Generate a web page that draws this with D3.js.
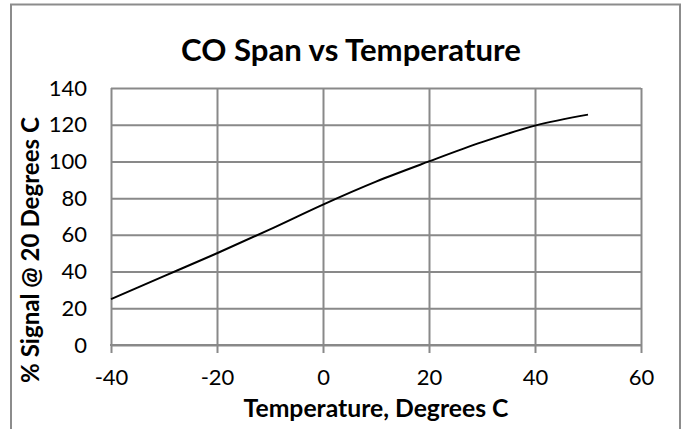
<!DOCTYPE html>
<html><head><meta charset="utf-8">
<script src="https://cdn.jsdelivr.net/npm/d3@7"></script>
<style>body{margin:0;background:#fff} svg{display:block}</style>
</head><body><svg id="c" width="685" height="429"></svg>
<script>
const temperatures = [-40, -30, -20, -10, 0, 10, 20, 30, 40, 50];
const signalPct = [25, 37.5, 50, 63, 76.5, 89, 100, 110.5, 119.5, 125.5];
const xTicks = [-40, -20, 0, 20, 40, 60];
const yTicks = [0, 20, 40, 60, 80, 100, 120, 140];
const titleText = "CO Span vs Temperature";
const xTitleText = "Temperature, Degrees C";
const yTitleText = "% Signal @ 20 Degrees C";

const W = 685, H = 429;
const m = {l: 111, r: 641, t: 88, b: 345};
const font = "Lato, 'Open Sans', sans-serif";
const gridColor = "#898989";
const fmt = d => String(d);

const svg = d3.select("#c");
const x = d3.scaleLinear().domain([-40, 60]).range([m.l, m.r]);
const y = d3.scaleLinear().domain([0, 140]).range([m.b, m.t]);

svg.append("rect").attr("width", W).attr("height", H).attr("fill", "#fff");
svg.append("rect").attr("x", 11).attr("y", 4.5).attr("width", 669).attr("height", 470)
  .attr("fill", "none").attr("stroke", "#8c8c8c").attr("stroke-width", 2);

// horizontal gridlines + y labels
const gy = svg.append("g").attr("transform", `translate(${m.l},0)`)
  .call(d3.axisLeft(y).tickValues(yTicks).tickSize(-(m.r - m.l)).tickPadding(24).tickFormat(fmt));
gy.select(".domain").remove();
gy.selectAll(".tick line").attr("stroke", gridColor).attr("stroke-width", 2);
gy.selectAll(".tick text").attr("font-family", font).attr("font-size", 22).attr("fill", "#000");

// vertical gridlines + x ticks + labels
const gx = svg.append("g").attr("transform", `translate(0,${m.b})`)
  .call(d3.axisBottom(x).tickValues(xTicks).tickSize(8).tickPadding(16).tickFormat(fmt));
gx.select(".domain").remove();
gx.selectAll(".tick line").attr("y1", -(m.b - m.t)).attr("y2", 8)
  .attr("stroke", gridColor).attr("stroke-width", 2);
gx.selectAll(".tick text").attr("font-family", font).attr("font-size", 22).attr("fill", "#000");

// x axis line
svg.append("line").attr("x1", x(-40) - 1).attr("x2", x(60) + 1).attr("y1", y(0)).attr("y2", y(0))
  .attr("stroke", gridColor).attr("stroke-width", 2);

// data line
const pts = temperatures.map((t, i) => [t, signalPct[i]]);
svg.append("path").datum(pts)
  .attr("d", d3.line().x(d => x(d[0])).y(d => y(d[1])).curve(d3.curveMonotoneX))
  .attr("fill", "none").attr("stroke", "#000").attr("stroke-width", 2);

function fit(sel, target) {
  const w = sel.node().getComputedTextLength();
  const fs = parseFloat(sel.attr("font-size"));
  sel.attr("font-size", fs * target / w);
}

const title = svg.append("text").attr("x", 351).attr("y", 61).attr("text-anchor", "middle")
  .attr("font-family", font).attr("font-weight", "bold").attr("font-size", 30).attr("fill", "#000")
  .text(titleText);
fit(title, 340);

const xt = svg.append("text").attr("x", (m.l + m.r) / 2).attr("y", 417).attr("text-anchor", "middle")
  .attr("font-family", font).attr("font-weight", "bold").attr("font-size", 23).attr("fill", "#000")
  .text(xTitleText);
fit(xt, 265);

const yt = svg.append("text").attr("transform", "translate(39,250) rotate(-90)").attr("text-anchor", "middle")
  .attr("font-family", font).attr("font-weight", "bold").attr("font-size", 23).attr("fill", "#000")
  .text(yTitleText);
fit(yt, 266);
</script></body></html>
